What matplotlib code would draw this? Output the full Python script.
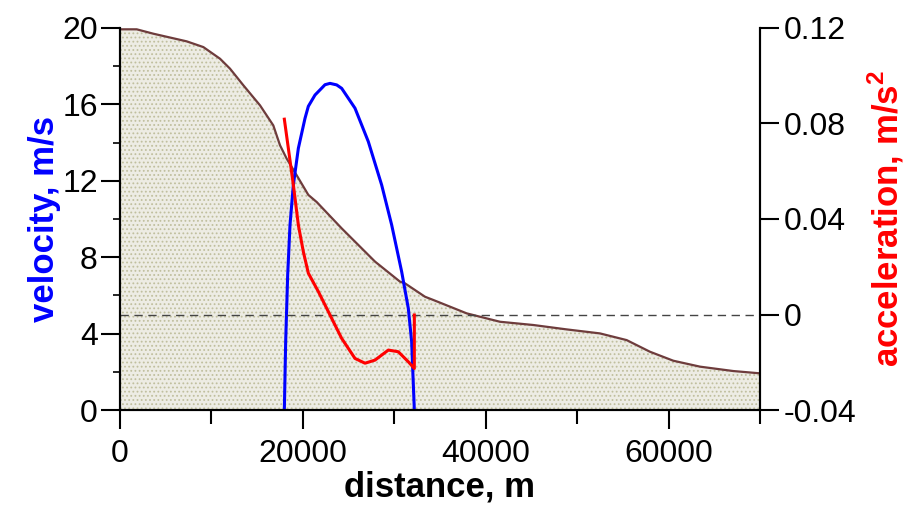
import matplotlib
matplotlib.use("Agg")
import matplotlib.pyplot as plt
from matplotlib.ticker import MultipleLocator, FuncFormatter

plt.rcParams['font.family'] = ['Liberation Sans', 'DejaVu Sans']
plt.rcParams['axes.unicode_minus'] = False
plt.rcParams['hatch.linewidth'] = 0.8
plt.rcParams['mathtext.fontset'] = 'custom'
plt.rcParams['mathtext.bf'] = 'Liberation Sans:bold'

# profile (drawn in velocity units on the left axis)
prof_x = [0, 1823, 3646, 7292, 9115, 10938, 12031, 13490, 15313, 16766, 17500,
          18229, 19323, 20599, 21510, 24245, 27891, 30625, 31172, 33359, 34271,
          37917, 41563, 45208, 48854, 52500, 55417, 57969, 60521, 63438, 67083, 70000]
prof_y = [19.93, 19.93, 19.7, 19.3, 19.0, 18.39, 17.87, 17.0, 15.95, 14.9, 13.86,
          13.16, 12.29, 11.26, 10.89, 9.51, 7.77, 6.72, 6.63, 5.93, 5.76,
          5.06, 4.62, 4.45, 4.22, 4.01, 3.66, 3.05, 2.58, 2.27, 2.04, 1.92]

# velocity, m/s
vel_x = [17974, 18120, 18339, 18594, 18959, 19506, 20234, 20599, 21328, 22060,
         22422, 22969, 23698, 24245, 25703, 27160, 28620, 29714, 30808, 31535,
         31899, 32193]
vel_y = [0.0, 3.58, 7.07, 9.69, 11.78, 13.7, 15.27, 15.9, 16.49, 16.85,
         17.03, 17.1, 17.02, 16.84, 15.8, 14.05, 11.78, 9.69, 7.24, 5.32,
         3.58, 0.0]

# acceleration, m/s^2
acc_x = [17974, 18412, 18959, 19506, 20052, 20599, 21693, 22969, 24245, 25703,
         26797, 27891, 29349, 30443, 31535, 32193, 32193]
acc_y = [0.0818, 0.0696, 0.0543, 0.0375, 0.0263, 0.0173, 0.0096, -0.0002, -0.01,
         -0.0184, -0.0204, -0.0191, -0.0149, -0.0156, -0.0198, -0.0226, -0.0002]

fig = plt.figure(figsize=(9.12, 5.05), dpi=100)
ax = fig.add_axes([0.1316, 0.1881, 0.7017, 0.7565])
ax2 = ax.twinx()

ax.fill_between(prof_x, 0, prof_y, facecolor='#edece4', edgecolor='#c0bf9e',
                hatch='....', linewidth=0)
ax.plot(prof_x, prof_y, color='#6e3c3c', lw=1.6)
ax.plot(vel_x, vel_y, color='#0000ff', lw=2.2)

ax2.axhline(0, color='#444444', lw=1, dashes=(6, 4))
ax2.plot(acc_x, acc_y, color='#ff0000', lw=2.2)

ax.set_xlim(0, 70000)
ax.set_ylim(0, 20)
ax2.set_ylim(-0.04, 0.12)

ax.xaxis.set_major_locator(MultipleLocator(20000))
ax.xaxis.set_minor_locator(MultipleLocator(10000))
ax.yaxis.set_major_locator(MultipleLocator(4))
ax.yaxis.set_minor_locator(MultipleLocator(2))
ax2.yaxis.set_major_locator(MultipleLocator(0.04))
ax2.yaxis.set_major_formatter(FuncFormatter(lambda v, p: '0' if abs(v) < 1e-9 else f'{v:.2f}'))

for a in (ax, ax2):
    a.spines['top'].set_visible(False)
    for s in ('left', 'right', 'bottom'):
        a.spines[s].set_linewidth(1.5)

ax.tick_params(axis='both', which='major', direction='out', length=14, width=1.5,
               labelsize=23, pad=2)
ax.tick_params(axis='x', which='major', pad=7)
ax.tick_params(axis='y', which='minor', direction='out', length=5, width=1.2)
ax.tick_params(axis='x', which='minor', direction='out', length=10, width=1.5)
ax2.tick_params(axis='y', which='major', direction='out', length=14, width=1.5,
                labelsize=23, pad=3)

ax.set_xlabel('distance, m', fontsize=25, fontweight='bold', labelpad=1)
ax.set_ylabel('velocity, m/s', fontsize=25, fontweight='bold', color='#0000ff', labelpad=1)
ax2.set_ylabel(r'acceleration, m/s$^{\mathbf{2}}$', fontsize=25, fontweight='bold',
               color='#ff0000', labelpad=7)

fig.savefig('out.png', dpi=100)
